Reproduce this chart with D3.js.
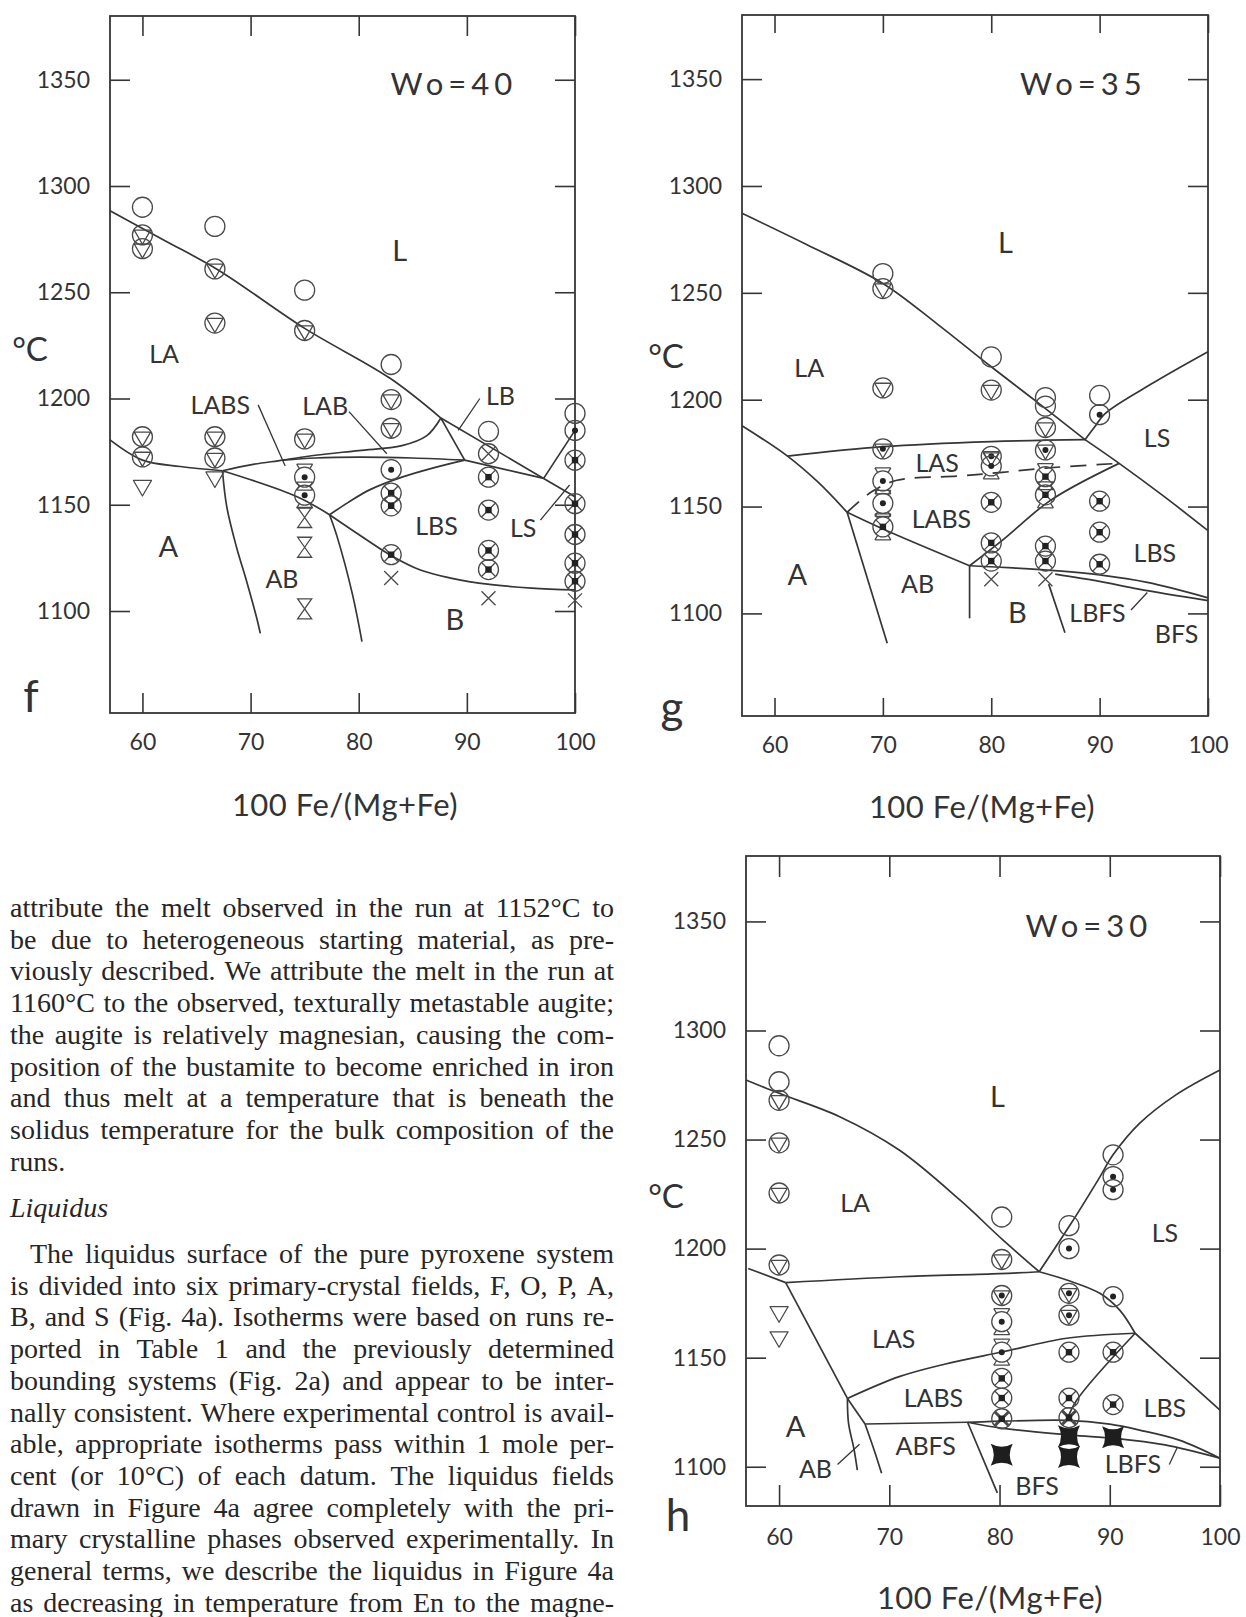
<!DOCTYPE html>
<html>
<head>
<meta charset="utf-8">
<script src="https://cdn.jsdelivr.net/npm/d3@7"></script>
<style>
  html, body { margin: 0; padding: 0; background: #fff; }
  svg { display: block; }
</style>
</head>
<body>
<svg id="page" width="1246" height="1617"></svg>
<script>
// ---------------------------------------------------------------
// Axis ticks shared by the three isopleth sections
// ---------------------------------------------------------------
const xTicks = [60, 70, 80, 90, 100];
const yTicks = [1100, 1150, 1200, 1250, 1300, 1350];

// Experimental runs: [100 Fe/(Mg+Fe), temperature °C, phase assemblage]
const runsWo40 = [
  [60, 1290, "L"], [60, 1277, "LA"], [60, 1270.5, "LA"], [60, 1182, "LA"], [60, 1172.5, "LA"], [60, 1159, "A"],
  [66.7, 1281, "L"], [66.7, 1261, "LA"], [66.7, 1235.5, "LA"], [66.7, 1182, "LA"], [66.7, 1172, "LA"], [66.7, 1163, "A"],
  [75, 1251, "L"], [75, 1232, "LA"], [75, 1181, "LA"], [75, 1163, "LABS"], [75, 1154.5, "LABS"],
  [75, 1144, "AB"], [75, 1130, "AB"], [75, 1101, "AB"],
  [83, 1216, "L"], [83, 1199.5, "LA"], [83, 1186, "LA"], [83, 1166.5, "LS"], [83, 1155.5, "LBS"],
  [83, 1149.5, "LBS"], [83, 1126.5, "LBS"], [83, 1115.5, "BS"],
  [92, 1184.5, "L"], [92, 1174, "LB"], [92, 1163, "LBS"], [92, 1147.5, "LBS"], [92, 1128.5, "LBS"],
  [92, 1119.5, "LBS"], [92, 1106, "BS"],
  [100, 1193, "L"], [100, 1185, "LS"], [100, 1171, "LBS"], [100, 1150.5, "LBS"], [100, 1136, "LBS"],
  [100, 1122.5, "LBS"], [100, 1114, "LBS"], [100, 1105, "BS"]
];

const runsWo35 = [
  [70, 1259, "L"], [70, 1252, "LA"], [70, 1205.5, "LA"], [70, 1177, "LAS"], [70, 1162, "LABS"],
  [70, 1151.5, "LABS"], [70, 1140.5, "LABSq"],
  [80, 1220, "L"], [80, 1204.5, "LA"], [80, 1173.5, "LAS"], [80, 1169, "LABS"], [80, 1152, "LBS"],
  [80, 1133, "LBS"], [80, 1124.5, "LBS"], [80, 1116, "BS"],
  [85, 1201, "L"], [85, 1197, "L"], [85, 1187, "LA"], [85, 1176.5, "LAS"], [85, 1164, "LABSq"],
  [85, 1155.5, "LABSq"], [85, 1131.5, "LBS"], [85, 1124.5, "LBS"], [85, 1116, "BS"],
  [90, 1202, "L"], [90, 1193, "LS"], [90, 1152.5, "LBS"], [90, 1138, "LBS"], [90, 1123, "LBS"]
];

const runsWo30 = [
  [60, 1293, "L"], [60, 1276.5, "L"], [60, 1268, "LA"], [60, 1248.5, "LA"], [60, 1225.5, "LA"],
  [60, 1192.5, "LA"], [60, 1171, "A"], [60, 1159.5, "A"],
  [80.2, 1214.5, "L"], [80.2, 1195, "LA"], [80.2, 1178.5, "LAS"], [80.2, 1166.5, "LABS"], [80.2, 1152.5, "LABS"],
  [80.2, 1140.5, "LBS"], [80.2, 1131.5, "LBS"], [80.2, 1122, "LBFS"], [80.2, 1105.5, "BFS"],
  [86.3, 1210.5, "L"], [86.3, 1200, "LS"], [86.3, 1179.5, "LAS"], [86.3, 1169.5, "LAS"], [86.3, 1152.5, "LBS"],
  [86.3, 1131.5, "LBS"], [86.3, 1122.5, "LBFS"], [86.3, 1114, "BFS"], [86.3, 1104.5, "BFS"],
  [90.3, 1243, "L"], [90.3, 1233, "LS"], [90.3, 1227, "LS"], [90.3, 1178, "LS"], [90.3, 1152.5, "LBS"],
  [90.3, 1128.5, "LBS"], [90.3, 1113.5, "BFS"]
];

// Phase boundaries, each a polyline of [Fe/(Mg+Fe), °C]
const boundsWo40 = [
  [[57, 1288.4], [62, 1274.5], [67, 1260.5], [75, 1233], [82.9, 1209.5], [87.6, 1190.8]],
  [[87.6, 1190.8], [97.1, 1162.4]],
  [[97.1, 1162.4], [100, 1185]],
  [[97.1, 1162.4], [100, 1153.8]],
  [[89.8, 1171], [97.1, 1162.4]],
  [[87.6, 1190.8], [89.8, 1171]],
  [[67.4, 1166], [70, 1168.8], [73, 1171], [76, 1173.3], [80, 1175.5], [84, 1177.8], [86.3, 1182.5], [87.6, 1190.8]],
  [[73, 1171], [76, 1172], [80, 1172.4], [85, 1172], [89.8, 1171]],
  [[57, 1180.5], [60, 1171], [63.5, 1168], [67.4, 1166]],
  [[67.4, 1166], [74.3, 1153.8], [77.3, 1145.3]],
  [[77.3, 1145.3], [80, 1136], [82.9, 1126.4], [85.7, 1119.3], [88.5, 1115.5], [92.1, 1112.5], [96, 1110.8], [100, 1109.9]],
  [[77.3, 1145.3], [79, 1151], [81, 1157], [84, 1163], [87, 1167.5], [89.8, 1171]],
  [[67.4, 1166], [67.8, 1149], [68.7, 1130], [69.6, 1114.6], [70.6, 1096], [70.9, 1089.5]],
  [[77.3, 1145.3], [78, 1135], [79.4, 1108.3], [80.3, 1085.6]]
];
const leadersWo40 = [
  [[70.7, 1197], [73.2, 1168.2]],
  [[79.1, 1193.8], [82.6, 1174]],
  [[91.2, 1200], [89.2, 1185]],
  [[96.8, 1142.8], [99.5, 1159.3]]
];

const boundsWo35 = [
  [[57, 1287.2], [63, 1272.5], [70, 1254.4], [75, 1235.5], [80, 1215.4], [84, 1199.8], [88.65, 1181.3]],
  [[88.65, 1181.3], [89.5, 1187], [90.5, 1193.5], [95, 1208], [100, 1222.4]],
  [[88.65, 1181.3], [91.8, 1170.2], [96, 1154.5], [100, 1138.7]],
  [[61.2, 1173.6], [70, 1178], [80, 1180.4], [88.65, 1181.3]],
  [[57, 1187.8], [61.2, 1173.6], [64, 1161.5], [66.7, 1147.3]],
  [[66.7, 1147.3], [70.4, 1086]],
  [[66.7, 1147.3], [70, 1139.5], [78, 1122.3]],
  [[78, 1122.3], [78, 1097.7]],
  [[78, 1122.3], [81.1, 1134.5], [85.5, 1153], [91.8, 1170.2]],
  [[78, 1122.3], [82, 1121.3], [86.2, 1119.9], [90, 1118], [94.4, 1114.5], [100, 1107.3]],
  [[85.9, 1118.4], [90, 1115], [93.6, 1111.4], [100, 1106]],
  [[85.3, 1113.7], [86.8, 1091]]
];
const dashedWo35 = [
  [[66.7, 1147.3], [69, 1157], [71.3, 1162.3], [77, 1164.3], [81, 1166], [85, 1168], [91.8, 1170.2]]
];
const leadersWo35 = [
  [[92.9, 1101.6], [94.4, 1109.8]]
];

const boundsWo30 = [
  [[57, 1277.3], [60, 1271.2], [65.5, 1260.5], [70.9, 1245.2], [76.4, 1222.3], [80.3, 1204], [83.6, 1189.4]],
  [[83.6, 1189.4], [86.5, 1211.6], [89, 1232], [90.3, 1243], [92.7, 1257.4], [96, 1270.5], [100, 1281.9]],
  [[60.6, 1184.4], [70.9, 1187.1], [80, 1188.5], [83.6, 1189.4]],
  [[57.2, 1190.9], [60.6, 1184.4]],
  [[60.6, 1184.4], [66.2, 1131.3]],
  [[66.2, 1131.3], [67.8, 1119.6]],
  [[83.6, 1189.4], [86.1, 1185.6], [89.1, 1179.5], [90.9, 1171.8], [92.3, 1161.2]],
  [[92.3, 1161.2], [96.3, 1142.8], [100, 1126]],
  [[66.2, 1131.3], [70.9, 1141.3], [75, 1147], [80.3, 1152.7], [86.1, 1158.9], [92.3, 1161.2]],
  [[92.3, 1161.2], [87, 1130.5], [86.1, 1121.3]],
  [[67.8, 1119.6], [77.1, 1120.4], [86.1, 1121.3], [90, 1119.5], [92.7, 1116.8], [96.3, 1112.2], [100, 1103.9]],
  [[77.1, 1120.4], [80.3, 1117.6], [86.5, 1114.5], [90.5, 1113], [95, 1110], [100, 1103.9]],
  [[77.1, 1120.4], [79.8, 1088]],
  [[66.2, 1131.3], [66.3, 1120], [66.8, 1108], [67.1, 1098.5]],
  [[67.8, 1119.6], [68.6, 1108], [69.3, 1097]]
];
const leadersWo30 = [
  [[65.3, 1101], [67.3, 1110.3]],
  [[95.4, 1101], [96.1, 1108.6]]
];

// Phase-field labels: [text, Fe/(Mg+Fe), °C]
const labelsWo40 = [
  ["L", 83.8, 1270], ["LA", 62, 1221.3], ["LABS", 67.2, 1197.5], ["LAB", 76.9, 1197], ["LB", 93.1, 1201.6],
  ["A", 62.4, 1131], ["AB", 72.9, 1115.4], ["B", 88.9, 1096.6], ["LBS", 87.2, 1140.5], ["LS", 95.2, 1139.7]
];
const labelsWo35 = [
  ["L", 81.3, 1273.9], ["LA", 63.2, 1215.4], ["LS", 95.3, 1182.7], ["LAS", 75, 1171], ["LABS", 75.4, 1144.5],
  ["A", 62.1, 1118.7], ["AB", 73.2, 1114.1], ["B", 82.4, 1100.8], ["LBFS", 89.8, 1100.8], ["BFS", 97.1, 1090.7],
  ["LBS", 95.1, 1128.9]
];
const labelsWo30 = [
  ["L", 79.8, 1270.4], ["LA", 66.9, 1221.5], ["LS", 95, 1207.7], ["LAS", 70.4, 1158.9], ["LABS", 74, 1132],
  ["A", 61.5, 1119], ["AB", 63.3, 1099.2], ["ABFS", 73.3, 1110], ["BFS", 83.4, 1091.6], ["LBFS", 92.1, 1101.5],
  ["LBS", 95, 1127.5]
];

// Running text set beside and below the figure
const textBlockA = [
  "attribute the melt observed in the run at 1152°C to",
  "be due to heterogeneous starting material, as pre-",
  "viously described. We attribute the melt in the run at",
  "1160°C to the observed, texturally metastable augite;",
  "the augite is relatively magnesian, causing the com-",
  "position of the bustamite to become enriched in iron",
  "and thus melt at a temperature that is beneath the",
  "solidus temperature for the bulk composition of the",
  "runs."
];
const textHeading = "Liquidus";
const textBlockB = [
  "The liquidus surface of the pure pyroxene system",
  "is divided into six primary-crystal fields, F, O, P, A,",
  "B, and S (Fig. 4a). Isotherms were based on runs re-",
  "ported in Table 1 and the previously determined",
  "bounding systems (Fig. 2a) and appear to be inter-",
  "nally consistent. Where experimental control is avail-",
  "able, appropriate isotherms pass within 1 mole per-",
  "cent (or 10°C) of each datum. The liquidus fields",
  "drawn in Figure 4a agree completely with the pri-",
  "mary crystalline phases observed experimentally. In",
  "general terms, we describe the liquidus in Figure 4a",
  "as decreasing in temperature from En to the magne-"
];

// ---------------------------------------------------------------
// Drawing
// ---------------------------------------------------------------
const INK = "#333";
const LINE = "#363636";
const MARK = "#4a4a4a";
const SANS = "Lato, 'Noto Sans', sans-serif";
const SERIF = "'Liberation Serif', 'DejaVu Serif', serif";

const svg = d3.select("#page");
svg.append("rect").attr("width", 1246).attr("height", 1617).attr("fill", "#fff");

// One run symbol, built from the phases present
function drawGlyph(g, code) {
  const r = 10;
  const stroke = sel => sel.attr("fill", "none").attr("stroke", MARK).attr("stroke-width", 1.3);
  const circle = () => stroke(g.append("circle").attr("r", r));
  const tri = (s) => stroke(g.append("path").attr("d",
      `M${-8.2 * s},${-4.7 * s}L${8.2 * s},${-4.7 * s}L0,${9.4 * s}Z`).attr("stroke-linejoin", "round"));
  const cross = (s, w) => stroke(g.append("path").attr("d",
      `M${-s},${-s}L${s},${s}M${-s},${s}L${s},${-s}`)).attr("stroke-width", w || 1.3);
  const dot = () => g.append("circle").attr("r", 3).attr("fill", "#222");
  const square = () => g.append("rect").attr("x", -3.2).attr("y", -3.2).attr("width", 6.4).attr("height", 6.4).attr("fill", "#222");
  const hourglass = () => stroke(g.append("path").attr("d",
      "M-7,-10L7,-10L-7,10L7,10Z"));
  const hourglassStubs = () => stroke(g.append("path").attr("d",
      "M-8,-13L8,-13M-8,13L8,13M-8,-13L-5.2,-8.5M8,-13L5.2,-8.5M-8,13L-5.2,8.5M8,13L5.2,8.5"));
  const bowtie = () => g.append("path").attr("d",
      "M-11,-11Q0,-5 11,-11Q5,0 11,11Q0,5 -11,11Q-5,0 -11,-11Z").attr("fill", "#1e1e1e");

  switch (code) {
    case "L": circle(); break;
    case "LA": circle(); tri(1); break;
    case "A": tri(1.1); break;
    case "LB": circle(); cross(7); break;
    case "LS": circle(); dot(); break;
    case "LBS": circle(); cross(7); square(); break;
    case "AB": hourglass(); break;
    case "BS": cross(7); break;
    case "LAS": circle(); tri(1); dot(); break;
    case "LABS": hourglassStubs(); circle(); dot(); break;
    case "LABSq": hourglassStubs(); circle(); cross(7); square(); break;
    case "BFS": bowtie(); break;
    case "LBFS": circle(); cross(7, 3); square(); break;
  }
}

function drawPanel(p) {
  const x = d3.scaleLinear().domain([57, 100]).range([p.left, p.right]);
  const y = d3.scaleLinear().domain([p.tMin, 1380]).range([p.bottom, p.top]);
  const g = svg.append("g");

  const styleAxis = sel => {
    sel.select(".domain").remove();
    sel.selectAll(".tick line").attr("stroke", LINE).attr("stroke-width", 1.6);
    sel.selectAll(".tick text").attr("fill", INK).attr("font-family", SANS)
      .attr("font-size", 23).attr("font-weight", 400);
  };

  g.append("g").attr("transform", `translate(0,${p.bottom})`)
    .call(d3.axisBottom(x).tickValues(xTicks).tickSizeInner(-p.tickLen).tickSizeOuter(0)
      .tickPadding(p.padX).tickFormat(d3.format("d")))
    .call(styleAxis);
  g.append("g").attr("transform", `translate(0,${p.top})`)
    .call(d3.axisTop(x).tickValues(xTicks).tickSizeInner(-p.tickLen).tickSizeOuter(0).tickFormat(() => ""))
    .call(styleAxis);
  g.append("g").attr("transform", `translate(${p.left},0)`)
    .call(d3.axisLeft(y).tickValues(yTicks).tickSizeInner(-20).tickSizeOuter(0)
      .tickPadding(20).tickFormat(d3.format("d")))
    .call(styleAxis);
  g.append("g").attr("transform", `translate(${p.right},0)`)
    .call(d3.axisRight(y).tickValues(yTicks).tickSizeInner(-20).tickSizeOuter(0).tickFormat(() => ""))
    .call(styleAxis);

  g.append("rect")
    .attr("x", p.left).attr("y", p.top)
    .attr("width", p.right - p.left).attr("height", p.bottom - p.top)
    .attr("fill", "none").attr("stroke", LINE).attr("stroke-width", 1.8);

  const line = d3.line().x(d => x(d[0])).y(d => y(d[1])).curve(d3.curveCatmullRom.alpha(0.5));

  g.append("g").selectAll("path").data(p.bounds).join("path")
    .attr("d", line).attr("fill", "none").attr("stroke", LINE).attr("stroke-width", 1.7)
    .attr("stroke-linejoin", "round");
  g.append("g").selectAll("path").data(p.dashed || []).join("path")
    .attr("d", line).attr("fill", "none").attr("stroke", LINE).attr("stroke-width", 1.7)
    .attr("stroke-dasharray", "16,10");
  g.append("g").selectAll("path").data(p.leaders || []).join("path")
    .attr("d", line).attr("fill", "none").attr("stroke", LINE).attr("stroke-width", 1.3);

  g.append("g").selectAll("g").data(p.runs).join("g")
    .attr("transform", d => `translate(${x(d[0])},${y(d[1])})`)
    .each(function (d) { drawGlyph(d3.select(this), d[2]); });

  g.append("g").selectAll("text").data(p.labels).join("text")
    .attr("x", d => x(d[1])).attr("y", d => y(d[2]))
    .attr("text-anchor", "middle").attr("dominant-baseline", "central")
    .attr("font-family", SANS).attr("font-size", d => d[0].length === 1 ? 29 : 25)
    .attr("fill", INK).text(d => d[0]);

  g.append("text").attr("x", x(p.woAt[0])).attr("y", y(p.woAt[1]))
    .attr("text-anchor", "middle").attr("dominant-baseline", "central")
    .attr("font-family", SANS).attr("font-size", 31).attr("letter-spacing", 5)
    .attr("fill", INK).text(p.wo);

  g.append("text").attr("x", p.degC[0]).attr("y", p.degC[1])
    .attr("text-anchor", "middle").attr("dominant-baseline", "central")
    .attr("font-family", SANS).attr("font-size", 33).attr("fill", INK).text("°C");

  g.append("text").attr("x", p.letter[0]).attr("y", p.letter[1])
    .attr("text-anchor", "middle").attr("dominant-baseline", "central")
    .attr("font-family", SANS).attr("font-size", 44).attr("fill", INK).text(p.name);

  g.append("text").attr("x", p.title[0]).attr("y", p.title[1])
    .attr("text-anchor", "middle")
    .attr("font-family", SANS).attr("font-size", 31).attr("letter-spacing", 0.5)
    .attr("fill", INK).text("100 Fe/(Mg+Fe)");
}

drawPanel({
  name: "f", wo: "Wo=40", woAt: [88.8, 1348.3],
  left: 110, right: 575, top: 16, bottom: 713, tMin: 1052, tickLen: 20, padX: 21,
  runs: runsWo40, bounds: boundsWo40, leaders: leadersWo40, labels: labelsWo40,
  degC: [30, 348], letter: [31, 695], title: [345, 816]
});
drawPanel({
  name: "g", wo: "Wo=35", woAt: [88.5, 1348],
  left: 742, right: 1208, top: 15, bottom: 716, tMin: 1052, tickLen: 18, padX: 21,
  runs: runsWo35, bounds: boundsWo35, dashed: dashedWo35, leaders: leadersWo35, labels: labelsWo35,
  degC: [666, 355], letter: [672, 706], title: [982, 818]
});
drawPanel({
  name: "h", wo: "Wo=30", woAt: [88.1, 1348.4],
  left: 746, right: 1220, top: 856, bottom: 1506, tMin: 1082, tickLen: 21, padX: 23,
  runs: runsWo30, bounds: boundsWo30, leaders: leadersWo30, labels: labelsWo30,
  degC: [666, 1195], letter: [678, 1514], title: [990, 1609]
});

// Justified running text, word by word
const FS = 28;
const textG = svg.append("g").attr("font-family", SERIF).attr("font-size", FS).attr("fill", "#262626");
const colLeft = 10, colRight = 614, pitch = 31.7;

function setLine(str, baseY, justify, indent, italic) {
  const words = str.split(" ");
  const nodes = words.map(w => textG.append("text").attr("y", baseY)
    .attr("font-style", italic ? "italic" : null).text(w));
  const widths = nodes.map(n => n.node().getComputedTextLength());
  const total = d3.sum(widths);
  const gap = (justify && words.length > 1)
    ? (colRight - colLeft - indent - total) / (words.length - 1)
    : FS * 0.25;
  let cx = colLeft + indent;
  nodes.forEach((n, i) => { n.attr("x", cx); cx += widths[i] + gap; });
}

textBlockA.forEach((s, i) => setLine(s, 917 + i * pitch, i < textBlockA.length - 1, 0, false));
setLine(textHeading, 1217, false, 0, true);
textBlockB.forEach((s, i) => setLine(s, 1263 + i * pitch, true, i === 0 ? 20 : 0, false));
</script>
</body>
</html>
